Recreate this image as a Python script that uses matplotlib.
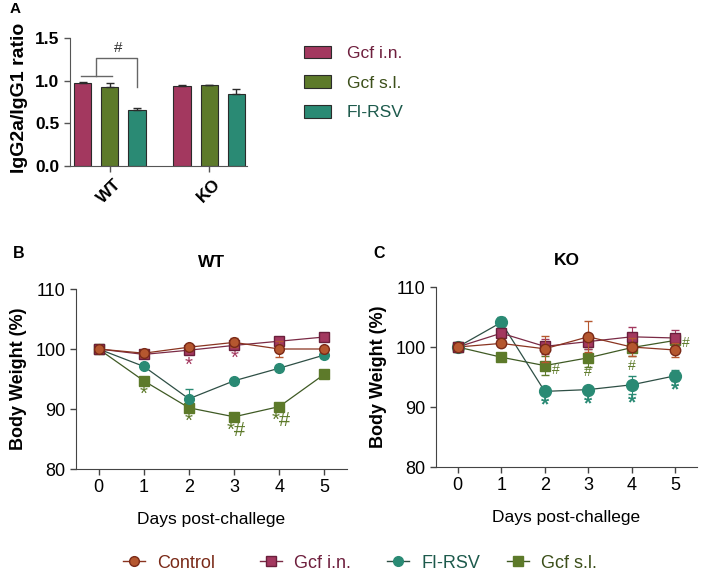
import matplotlib
matplotlib.use("Agg")
import matplotlib.pyplot as plt
from matplotlib.lines import Line2D
from matplotlib.patches import Patch
import numpy as np

plt.rcParams['font.family'] = ['Liberation Sans', 'DejaVu Sans']

# ---------------- Data ----------------
groups = ["WT", "KO"]
bar_series = ["Gcf i.n.", "Gcf s.l.", "FI-RSV"]
ratio_gcf_in = [0.97, 0.94]
ratio_gcf_in_err = [0.01, 0.015]
ratio_gcf_sl = [0.93, 0.945]
ratio_gcf_sl_err = [0.04, 0.01]
ratio_firsv = [0.655, 0.84]
ratio_firsv_err = [0.03, 0.06]

days = [0, 1, 2, 3, 4, 5]
# WT body weight (%)
wt_control = [100, 99.3, 100.3, 101.1, 100.0, 100.0]
wt_control_err = [0.3, 0.6, 0.5, 0.8, 1.3, 0.4]
wt_gcf_in = [100, 99.1, 99.8, 100.6, 101.3, 102.0]
wt_gcf_in_err = [0.3, 0.5, 0.6, 0.6, 0.4, 0.4]
wt_firsv = [100, 97.1, 91.7, 94.7, 96.8, 99.0]
wt_firsv_err = [0.2, 0.3, 1.7, 0.3, 0.3, 0.5]
wt_gcf_sl = [100, 94.7, 90.2, 88.7, 90.4, 95.8]
wt_gcf_sl_err = [0.2, 0.3, 0.4, 0.3, 0.3, 0.3]
# KO body weight (%)
ko_control = [100, 100.6, 99.7, 101.7, 100.0, 99.5]
ko_control_err = [0.3, 0.5, 2.2, 2.6, 1.5, 1.2]
ko_gcf_in = [100, 102.3, 100.1, 100.9, 101.7, 101.5]
ko_gcf_in_err = [0.3, 0.6, 1.2, 1.2, 1.6, 1.3]
ko_firsv = [100, 104.1, 92.6, 92.9, 93.7, 95.2]
ko_firsv_err = [0.3, 0.9, 0.5, 0.4, 1.5, 0.9]
ko_gcf_sl = [100, 98.3, 96.9, 98.2, 99.9, 101.1]
ko_gcf_sl_err = [0.3, 0.4, 1.6, 1.5, 1.4, 0.8]

# ---------------- Styles ----------------
c_in = "#a3385f"
c_sl = "#5d7a2a"
c_fi = "#2a8a74"
c_ct = "#b5572f"
t_in = "#6e1f3d"
t_sl = "#3c4f1a"
t_fi = "#1d5a4c"
t_ct = "#7a2a18"
edge_dark = "#2b2b2b"

fig = plt.figure(figsize=(7.1, 5.72), dpi=100)
W, H = 710, 572

def px_axes(x0, y0, x1, y1):
    return fig.add_axes([x0 / W, (H - y1) / H, (x1 - x0) / W, (y1 - y0) / H])

# ---------------- Panel A ----------------
axA = px_axes(70, 38, 247, 166)
x = np.arange(len(groups))
off = 0.272
bw = 0.175
for vals, errs, col, k in [(ratio_gcf_in, ratio_gcf_in_err, c_in, -1),
                           (ratio_gcf_sl, ratio_gcf_sl_err, c_sl, 0),
                           (ratio_firsv, ratio_firsv_err, c_fi, 1)]:
    axA.bar(x + k * off, vals, width=bw, color=col, edgecolor=edge_dark, linewidth=0.8,
            yerr=[np.zeros(len(vals)), errs], error_kw=dict(ecolor=edge_dark, elinewidth=1.0, capsize=3, capthick=1.0),
            zorder=2)
axA.set_xlim(-0.40, 1.38)
axA.set_ylim(0, 1.5)
axA.set_yticks([0.0, 0.5, 1.0, 1.5])
axA.set_yticklabels(["0.0", "0.5", "1.0", "1.5"], fontsize=12.5, fontweight="bold")
axA.set_xticks(x)
axA.set_xticklabels(groups, rotation=45, fontsize=12.5, fontweight="bold", ha="center", va="top")
axA.set_ylabel("IgG2a/IgG1 ratio", fontsize=14, fontweight="bold", labelpad=2)
axA.yaxis.set_label_coords(-0.235, 0.53)
for s in ["top", "right"]:
    axA.spines[s].set_visible(False)
for s in ["left", "bottom"]:
    axA.spines[s].set_color("#555555")
axA.tick_params(axis="both", color="#555555", length=4, width=1)
# significance bracket
axA.plot([-off - 0.02, 0.02], [1.05, 1.05], color="#666666", lw=1.0, clip_on=False)
axA.plot([-off / 2, -off / 2, off, off], [1.05, 1.27, 1.27, 0.93], color="#666666", lw=1.0, clip_on=False)
axA.text(off / 4 + 0.02, 1.30, "#", ha="center", va="bottom", fontsize=11, color="#333333")

# legend A
handlesA = [Patch(facecolor=c, edgecolor=edge_dark, linewidth=0.8) for c in (c_in, c_sl, c_fi)]
legA = fig.legend(handlesA, bar_series, loc="upper left", bbox_to_anchor=(288 / W, 1 - 30 / H),
                  frameon=False, fontsize=12.5, handlelength=1.6, handleheight=0.75,
                  labelspacing=0.82, handletextpad=0.9)
for t, c in zip(legA.get_texts(), (t_in, t_sl, t_fi)):
    t.set_color(c)

fig.text(15 / W, 1 - 9 / H, "A", fontsize=11, fontweight="bold", ha="center", va="center")

# ---------------- Panels B and C ----------------
def weight_panel(ax, ct, cte, gin, gine, fi, fie, gsl, gsle, title, ms_c, ms_s, ms_fi):
    lw = 0.9
    ax.errorbar(days, gsl, yerr=gsle, color=c_sl, marker="s", ms=ms_s, mec=c_sl, mfc=c_sl,
                ecolor=c_sl, elinewidth=0.8, capsize=3, lw=0, zorder=3)
    ax.plot(days, gsl, color="#3f5a24", lw=lw, zorder=2)
    ax.errorbar(days, fi, yerr=fie, color=c_fi, marker="o", ms=ms_fi, mec=c_fi, mfc=c_fi,
                ecolor=c_fi, elinewidth=0.8, capsize=3, lw=0, zorder=3)
    ax.plot(days, fi, color="#2e4f45", lw=lw, zorder=2)
    ax.errorbar(days, gin, yerr=gine, color=c_in, marker="s", ms=ms_s, mec="#6a1f3c", mfc=c_in,
                ecolor=c_in, elinewidth=0.8, capsize=3, lw=0, zorder=4)
    ax.plot(days, gin, color="#7a2a45", lw=lw, zorder=2)
    ax.errorbar(days, ct, yerr=cte, color=c_ct, marker="o", ms=ms_c, mec="#7a2a18", mfc=c_ct,
                ecolor=c_ct, elinewidth=0.8, capsize=3, lw=0, zorder=5)
    ax.plot(days, ct, color="#8a3420", lw=lw, zorder=2)
    ax.set_xlim(-0.5, 5.5)
    ax.set_ylim(80, 110)
    ax.set_yticks([80, 90, 100, 110])
    ax.set_xticks(days)
    ax.tick_params(axis="both", labelsize=13, color="#444444", length=4, width=1)
    for s in ["top", "right"]:
        ax.spines[s].set_visible(False)
    for s in ["left", "bottom"]:
        ax.spines[s].set_color("#444444")
    ax.set_ylabel("Body Weight (%)", fontsize=13, fontweight="bold", labelpad=6)
    ax.set_xlabel("Days post-challege", fontsize=12.5, labelpad=11)
    ax.set_title(title, fontsize=12.5, fontweight="bold", pad=16)

axB = px_axes(76, 289, 347, 469)
weight_panel(axB, wt_control, wt_control_err, wt_gcf_in, wt_gcf_in_err,
             wt_firsv, wt_firsv_err, wt_gcf_sl, wt_gcf_sl_err, "WT", 7, 6.8, 7)
axC = px_axes(436, 287, 697, 467)
weight_panel(axC, ko_control, ko_control_err, ko_gcf_in, ko_gcf_in_err,
             ko_firsv, ko_firsv_err, ko_gcf_sl, ko_gcf_sl_err, "KO", 7.5, 7.3, 8.5)

# significance marks
sB = [(2, 97.3, "*", c_in), (3, 98.4, "*", c_in),
      (1, 92.5, "*", c_sl), (2, 88.0, "*", c_sl), (3.05, 86.4, "*#", c_sl), (4.05, 88.1, "*#", c_sl)]
for xx, yy, s, c in sB:
    axB.text(xx, yy, s, ha="center", va="center", fontsize=14.5, color=c)
sC = [(2, 90.3), (3, 90.6), (4, 90.7), (5, 92.9)]
for xx, yy in sC:
    axC.text(xx, yy, "*", ha="center", va="center", fontsize=15, color=c_fi, fontweight="bold")
hC = [(2.25, 96.1), (3.0, 95.9), (4.0, 96.9), (5.25, 100.7)]
for xx, yy in hC:
    axC.text(xx, yy, "#", ha="center", va="center", fontsize=10, color=c_sl)

fig.text(13 / W, 1 - 253 / H, "B", fontsize=11.5, fontweight="bold", ha="left", va="center")
fig.text(373 / W, 1 - 253 / H, "C", fontsize=11.5, fontweight="bold", ha="left", va="center")

# bottom legend: one entry each, placed where the reference places them
handles = [
    Line2D([], [], color="#8a3420", lw=1, marker="o", ms=7, mfc=c_ct, mec="#7a2a18"),
    Line2D([], [], color="#7a2a45", lw=1, marker="s", ms=7, mfc=c_in, mec="#6a1f3c"),
    Line2D([], [], color="#2e4f45", lw=1, marker="o", ms=7, mfc=c_fi, mec=c_fi),
    Line2D([], [], color="#3f5a24", lw=1, marker="s", ms=7, mfc=c_sl, mec=c_sl),
]
labels = ["Control", "Gcf i.n.", "FI-RSV", "Gcf s.l."]
label_colors = [t_ct, t_in, t_fi, t_sl]
handle_x = [123, 260, 387, 507]
for h, lab, tc, hx in zip(handles, labels, label_colors, handle_x):
    lg = fig.legend([h], [lab], loc="center left", bbox_to_anchor=(hx / W, 1 - 563 / H),
                    frameon=False, fontsize=13, handlelength=1.2, handletextpad=0.7,
                    borderaxespad=0, borderpad=0)
    lg.get_texts()[0].set_color(tc)

fig.savefig("out.png", dpi=100)
